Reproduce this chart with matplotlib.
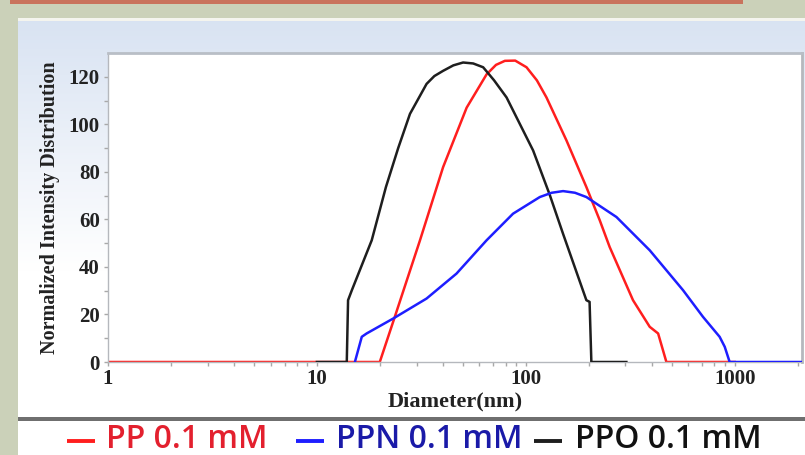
import numpy as np
import matplotlib.pyplot as plt
from matplotlib.lines import Line2D
from matplotlib.patches import Rectangle

# diameters (nm) and normalized intensity
pp_d = [1, 19.6, 20.0, 23.6, 31.1, 40.2, 52.1, 64.9, 72, 79.4, 89, 100.8, 113, 125.6, 156.6, 195, 226, 252, 326, 392, 430, 471, 1000]
pp_v = [0, 0, 0, 19, 51, 82, 107, 121, 125, 126.7, 126.8, 124, 118.5, 111.3, 93.2, 73.6, 59.6, 48.4, 26, 14.8, 12, 0, 0]

ppn_d = [15.2, 16.4, 17.3, 23.2, 33.5, 46.6, 64.9, 86.9, 116.7, 133, 150.8, 172, 195, 271.6, 392, 566, 705, 847, 896, 946, 2100]
ppn_v = [0, 10.6, 12, 18.3, 26.7, 37.2, 51.2, 62.4, 69.4, 71.2, 71.9, 71.2, 69.4, 61, 47, 30.2, 19, 10.6, 6.4, 0, 0]

ppo_d = [10, 13.9, 14.1, 14.7, 18.3, 21.4, 24.5, 27.9, 33.5, 36.5, 40.2, 45, 50.1, 56, 62.5, 70.5, 80.9, 108.4, 130, 150.7, 195, 202, 206, 303]
ppo_v = [0, 0, 26, 30.2, 51.2, 73.6, 90, 104.4, 117, 120.3, 122.5, 124.8, 126, 125.6, 124, 118.5, 111.3, 89, 70.5, 54, 26, 25.3, 0, 0]

labels = ["PP 0.1 mM", "PPN 0.1 mM", "PPO 0.1 mM"]
y_ticks = [0, 20, 40, 60, 80, 100, 120]
x_ticks = [1, 10, 100, 1000]

W, H = 805, 455
fig = plt.figure(figsize=(W / 100, H / 100), dpi=100)
fig.patch.set_facecolor("#CBD1B9")


def fx(px):
    return px / W


def fy(py):
    return 1 - py / H


# slide-like background pieces
fig.patches.append(Rectangle((fx(10), fy(4)), fx(733), 4 / H, transform=fig.transFigure,
                             facecolor="#C9735D", edgecolor="none"))
bg = fig.add_axes([fx(18), fy(419), fx(W - 18), (419 - 21) / H])
grad = np.linspace(0, 1, 256).reshape(-1, 1)
top = np.array([0.85, 0.89, 0.95])
col = top + (1 - top) * np.clip(grad * 1.6, 0, 1)
bg.imshow(col[:, None, :].repeat(2, axis=1), aspect="auto", extent=[0, 1, 0, 1])
bg.set_axis_off()
fig.patches.append(Rectangle((fx(18), fy(21)), fx(W - 18), 3 / H, transform=fig.transFigure,
                             facecolor="#F4F4EE", edgecolor="none"))
fig.patches.append(Rectangle((fx(18), 0), fx(W - 18), fy(419), transform=fig.transFigure,
                             facecolor="white", edgecolor="none"))
fig.patches.append(Rectangle((fx(18), fy(421)), fx(W - 18), 4 / H, transform=fig.transFigure,
                             facecolor="#6F6F6F", edgecolor="none"))

ax = fig.add_axes([fx(108), fy(362), fx(802 - 108), (362 - 53) / H])
ax.set_facecolor("white")

ax.plot(pp_d, pp_v, color="#FF1E1E", lw=1.8, zorder=2)
ax.plot(ppo_d, ppo_v, color="#1E1E1E", lw=1.8, zorder=3)
ax.plot(ppn_d, ppn_v, color="#1E1EFF", lw=1.8, zorder=4)

ax.set_xscale("log")
ax.set_xlim(1, 2100)
ax.set_ylim(0, 130)
ax.set_xticks(x_ticks)
ax.set_xticklabels([str(t) for t in x_ticks])
ax.set_yticks(y_ticks)
ax.set_yticks(range(10, 130, 20), minor=True)

serif = "Liberation Serif"
for lab in ax.get_xticklabels() + ax.get_yticklabels():
    lab.set_fontfamily(serif)
    lab.set_fontweight("bold")
    lab.set_fontsize(15)
    lab.set_color("#222222")
ax.tick_params(which="both", direction="out", color="#A8A8A8", length=3, width=1)
ax.tick_params(axis="x", pad=2)
ax.tick_params(axis="y", pad=3)

for s in ax.spines.values():
    s.set_color("#B5B8BD")
    s.set_linewidth(1)
ax.spines["top"].set_linewidth(2)
ax.spines["top"].set_color("#B9BEC6")
ax.spines["right"].set_linewidth(2)

ax.set_xlabel("Diameter(nm)", fontfamily=serif, fontweight="bold", fontsize=16, labelpad=2,
              color="#222222")
ax.set_ylabel("Normalized Intensity Distribution", fontfamily=serif, fontweight="bold",
              fontsize=14.5, labelpad=6, color="#222222")

# legend row under the panel
legend_cols = ["#FF1E1E", "#1E1EFF", "#1E1E1E"]
text_cols = ["#E3202E", "#1A1AA8", "#111111"]
dash_x = [67, 296, 534]
text_x = [106, 336, 575]
for lab, lc, tc, dx, tx in zip(labels, legend_cols, text_cols, dash_x, text_x):
    fig.lines.append(Line2D([fx(dx), fx(dx + 28)], [fy(441), fy(441)], transform=fig.transFigure,
                            color=lc, lw=2.8, solid_capstyle="butt"))
    fig.text(fx(tx), fy(440), lab, color=tc, fontsize=23, family="Open Sans",
             fontweight="semibold", va="center", ha="left")

fig.savefig("out.png", dpi=100)
